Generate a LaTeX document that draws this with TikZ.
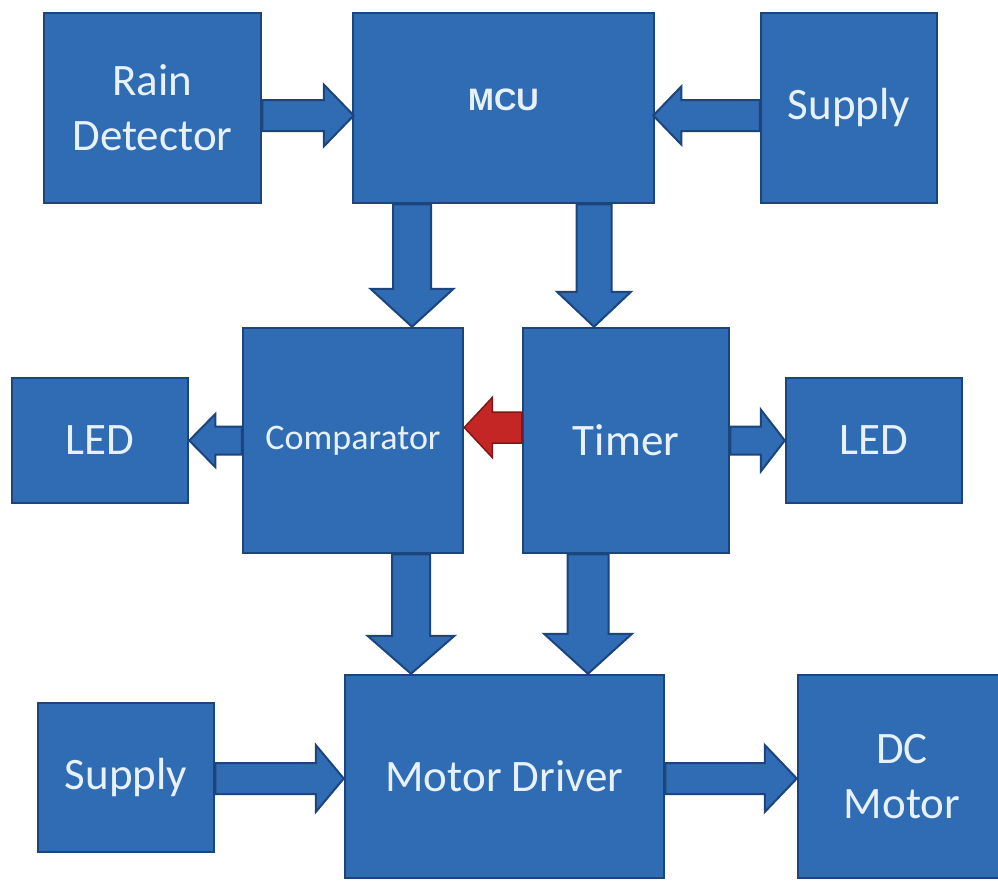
\documentclass[tikz,border=0pt]{standalone}
\usepackage{fontspec}
\setmainfont{Carlito}
\newfontfamily\mcufont{Liberation Sans}
\usetikzlibrary{calc}
\definecolor{boxfill}{RGB}{47,108,180}
\definecolor{boxline}{RGB}{28,68,125}
\definecolor{txtc}{RGB}{232,241,250}
\definecolor{redfill}{RGB}{196,38,38}
\definecolor{redline}{RGB}{130,22,22}
% style, from, to, shaft half width, head half width, head length
\newcommand\blockarrow[6]{%
  \draw[#1] let \p1=(#2), \p2=(#3),
    \n1={veclen(\x2-\x1,\y2-\y1)}, \n2={atan2(\y2-\y1,\x2-\x1)} in
    [shift={(\p1)}, rotate=\n2]
    (0,-#4) -- ({\n1-#6},-#4) -- ({\n1-#6},-#5) -- ({\n1},0)
    -- ({\n1-#6},#5) -- ({\n1-#6},#4) -- (0,#4) -- cycle;}
\tikzset{
  box/.style={draw=boxline, fill=boxfill, line width=2.5pt, text=txtc,
    inner sep=0pt, align=center, font=\fontsize{45}{55}\selectfont},
  wh/.style 2 args={minimum width=#1, minimum height=#2},
  barrow/.style={draw=boxline, fill=boxfill, line width=2pt, line join=miter},
  rarrow/.style={draw=redline, fill=redfill, line width=1.5pt, line join=miter}
}
\begin{document}
\begin{tikzpicture}[x=1pt,y=1pt]
\useasboundingbox (0,0) rectangle (998,-881);
\fill[white] (0,0) rectangle (998,-881);
\clip (0,0) rectangle (998,-881);
% boxes
\node[box, wh={217}{190}] (rain) at (152.5,-108) {Rain\\Detector};
\node[box, wh={301}{190}, font=\mcufont\bfseries\fontsize{31}{36}\selectfont] (mcu) at (503.5,-108) {\raisebox{16pt}{MCU}};
\node[box, wh={176}{190}] (sup1) at (849,-108) {Supply};
\node[box, wh={176}{125}] (ledL) at (100,-440.5) {LED};
\node[box, wh={220}{225}, font=\fontsize{36}{44}\selectfont] (comp) at (353,-440.5) {Comparator};
\node[box, wh={206}{225}] (timer) at (626,-440.5) {Timer};
\node[box, wh={176}{125}] (ledR) at (874,-440.5) {LED};
\node[box, wh={176}{149}] (sup2) at (126,-777.5) {Supply};
\node[box, wh={319}{203}] (md) at (504.5,-776.5) {Motor Driver};
\node[box, wh={208}{203}] (dc) at (902,-776.5) {DC\\Motor};
% arrows
\blockarrow{barrow}{$(rain.east)+(0,-7.5)$}{$(mcu.west)+(2,-7.5)$}{15.5}{31}{30}
\blockarrow{barrow}{$(sup1.west)+(0,-7.5)$}{$(mcu.east)+(-2,-7.5)$}{15.5}{29}{28}
\blockarrow{barrow}{$(mcu.south)+(-91.5,0)$}{$(comp.north)+(59,0)$}{19}{41.5}{38}
\blockarrow{barrow}{$(mcu.south)+(90.5,0)$}{$(timer.north)+(-32,0)$}{17.5}{37}{35}
\blockarrow{barrow}{comp.west}{ledL.east}{14}{26.5}{26}
\blockarrow{rarrow}{$(timer.west)+(0,13)$}{$(comp.east)+(0,13)$}{15.5}{30}{28}
\blockarrow{barrow}{timer.east}{ledR.west}{14}{31}{24}
\blockarrow{barrow}{$(comp.south)+(58,0)$}{$(md.north)+(-93.5,0)$}{19}{43.5}{38}
\blockarrow{barrow}{$(timer.south)+(-38,0)$}{$(md.north)+(83.5,0)$}{20.5}{44}{40}
\blockarrow{barrow}{$(sup2.east)+(0,-1)$}{$(md.west)+(0,-2)$}{15.5}{33.5}{28}
\blockarrow{barrow}{$(md.east)+(0,-2)$}{$(dc.west)+(0,-2)$}{15.5}{33.5}{32}
\end{tikzpicture}
\end{document}
